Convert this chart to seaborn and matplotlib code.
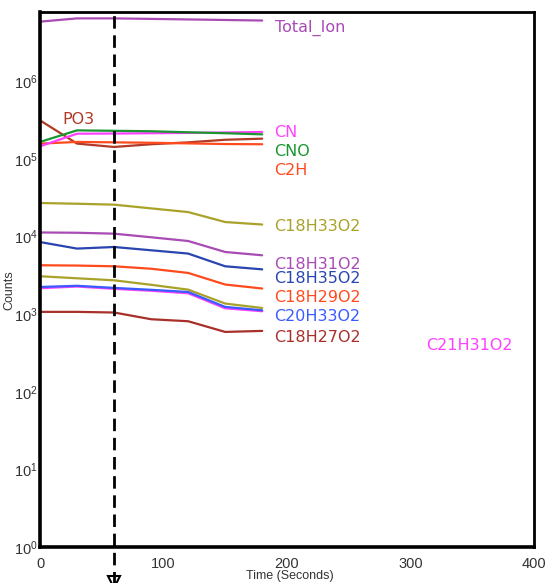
import pandas as pd
import numpy as np
import matplotlib
matplotlib.use("Agg")
import matplotlib.pyplot as plt
import matplotlib.ticker as mticker
import seaborn as sns

# === DATA ===
time_s = [0, 30, 60, 90, 120, 150, 180]

total_ion = [5.9e6, 6.5e6, 6.5e6, 6.4e6, 6.3e6, 6.2e6, 6.1e6]
po3 = [3.15e5, 1.58e5, 1.43e5, 1.55e5, 1.64e5, 1.77e5, 1.83e5]
cno = [1.66e5, 2.34e5, 2.31e5, 2.28e5, 2.21e5, 2.15e5, 2.08e5]
cn = [1.46e5, 2.12e5, 2.13e5, 2.15e5, 2.17e5, 2.20e5, 2.23e5]
c2h = [1.58e5, 1.66e5, 1.64e5, 1.62e5, 1.59e5, 1.56e5, 1.55e5]
c18h33o2 = [2.71e4, 2.65e4, 2.58e4, 2.31e4, 2.07e4, 1.54e4, 1.43e4]
c18h31o2 = [1.13e4, 1.12e4, 1.09e4, 9.8e3, 8.77e3, 6.33e3, 5.74e3]
c18h35o2 = [8.5e3, 7.0e3, 7.34e3, 6.66e3, 6.04e3, 4.14e3, 3.78e3]
c18h29o2 = [4.27e3, 4.23e3, 4.14e3, 3.85e3, 3.40e3, 2.41e3, 2.14e3]
olive_2 = [3.08e3, 2.90e3, 2.73e3, 2.39e3, 2.07e3, 1.37e3, 1.20e3]
c20h33o2 = [2.24e3, 2.32e3, 2.18e3, 2.06e3, 1.93e3, 1.24e3, 1.12e3]
c21h31o2 = [2.16e3, 2.27e3, 2.12e3, 2.00e3, 1.86e3, 1.19e3, 1.09e3]
c18h27o2 = [1.07e3, 1.07e3, 1.05e3, 860, 810, 590, 608]

series = {
    "Total_Ion": total_ion,
    "PO3": po3,
    "C2H": c2h,
    "CN": cn,
    "CNO": cno,
    "C18H33O2": c18h33o2,
    "C18H31O2": c18h31o2,
    "C18H35O2": c18h35o2,
    "C18H29O2": c18h29o2,
    "olive_2": olive_2,
    "C21H31O2": c21h31o2,
    "C20H33O2": c20h33o2,
    "C18H27O2": c18h27o2,
}

colors = {
    "Total_Ion": "#a94bb5",
    "PO3": "#b03a26",
    "C2H": "#ff4a1e",
    "CN": "#ff40ff",
    "CNO": "#1a9630",
    "C18H33O2": "#a9a22a",
    "C18H31O2": "#a94bb5",
    "C18H35O2": "#2a45b0",
    "C18H29O2": "#ff4a1e",
    "olive_2": "#a9a22a",
    "C21H31O2": "#ff40ff",
    "C20H33O2": "#3a5cff",
    "C18H27O2": "#a8302a",
}

# label name, x position (s), y position (counts)
label_names = ["Total_Ion", "CN", "CNO", "C2H", "C18H33O2", "C18H31O2",
               "C18H35O2", "C18H29O2", "C20H33O2", "C18H27O2", "C21H31O2", "PO3"]
label_x = [190, 190, 190, 190, 190, 190, 190, 190, 190, 190, 313, 18]
label_y = [4.83e6, 2.2e5, 1.25e5, 7.1e4, 1.36e4, 4.4e3,
           2.9e3, 1.65e3, 940, 504, 397, 3.25e5]

# === LONG TABLE ===
rows = []
for name, vals in series.items():
    for t, v in zip(time_s, vals):
        rows.append({"time": t, "counts": v, "ion": name})
df = pd.DataFrame(rows)

# === PLOT ===
sns.set_style("white")
plt.rcParams["font.family"] = ["Liberation Sans", "DejaVu Sans"]

fig = plt.figure(figsize=(5.48, 5.83), dpi=100)
ax = fig.add_axes([0.073, 0.062, 0.901, 0.917])

sns.lineplot(data=df, x="time", y="counts", hue="ion", palette=colors,
             hue_order=list(series.keys()), linewidth=1.6, legend=False,
             estimator=None, ax=ax)

ax.set_yscale("log")
ax.set_xlim(0, 400)
ax.set_ylim(1, 7.8e6)

for name, lx, ly in zip(label_names, label_x, label_y):
    ax.text(lx, ly, name, color=colors[name], fontsize=11.5, va="center",
            ha="left", family=["DejaVu Sans"])

# dashed marker line at 60 s, running below the axis
ax.axvline(60, ymin=-0.08, ymax=1, color="black", linestyle=(0, (4.5, 2.4)),
           linewidth=2.0, clip_on=False, zorder=5)
ax.plot([60], [-0.066], marker="v", markersize=9, markerfacecolor="none",
        markeredgecolor="black", markeredgewidth=1.5,
        transform=ax.get_xaxis_transform(), clip_on=False)

# axes styling
for side in ["left", "bottom"]:
    ax.spines[side].set_linewidth(2.6)
for side in ["top", "right"]:
    ax.spines[side].set_linewidth(2.0)
for s in ax.spines.values():
    s.set_color("black")

ax.xaxis.set_major_locator(mticker.MultipleLocator(100))
ax.xaxis.set_minor_locator(mticker.MultipleLocator(20))
ax.yaxis.set_major_locator(mticker.LogLocator(base=10, numticks=10))
ax.yaxis.set_minor_locator(mticker.LogLocator(base=10, subs=np.arange(2, 10) * 1.0, numticks=20))
ax.yaxis.set_minor_formatter(mticker.NullFormatter())
ax.tick_params(which="both", direction="in", top=False, right=False,
               colors="black", labelcolor="#333333", labelsize=10.5)
ax.tick_params(which="major", length=6, width=1.5)
ax.tick_params(which="minor", length=3, width=1.2)
ax.tick_params(axis="y", which="major", pad=1.5)
ax.tick_params(axis="x", which="major", pad=7.5)

ax.set_xlabel("Time (Seconds)", fontsize=9, color="#333333")
ax.set_ylabel("Counts", fontsize=9, color="#333333")
ax.xaxis.set_label_coords(0.506, -0.043)
ax.yaxis.set_label_coords(-0.05, 0.48)

fig.savefig("out.png", dpi=100)
